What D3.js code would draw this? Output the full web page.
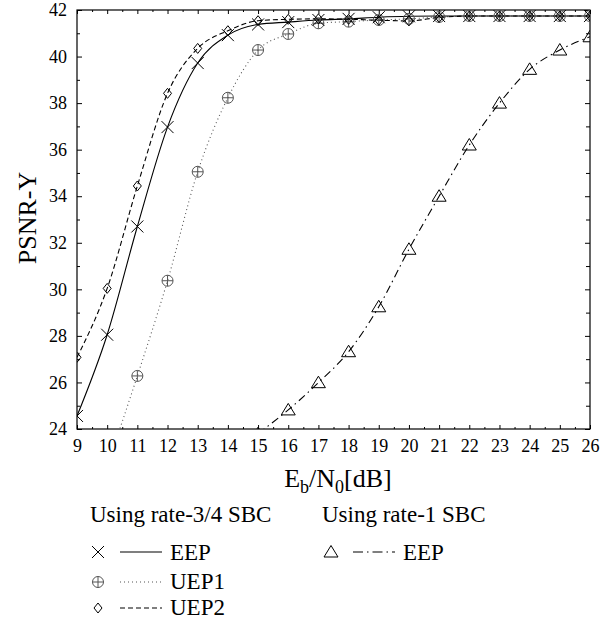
<!DOCTYPE html>
<html><head><meta charset="utf-8">
<script src="https://cdn.jsdelivr.net/npm/d3@7"></script>
<style>body{margin:0;background:#fff}svg{display:block}svg text{font-family:"Liberation Serif",serif !important;fill:#000}</style>
</head><body>
<script>
// ---- data ----
const snr = [9,10,11,12,13,14,15,16,17,18,19,20,21,22,23,24,25,26];
const eep34  = [24.56,28.05,32.7,36.97,39.72,40.92,41.38,41.48,41.57,41.62,41.69,41.73,41.74,41.74,41.74,41.74,41.74,41.74];
const uep1_x = [10,11,12,13,14,15,16,17,18,19,20,21,22,23,24,25,26];
const uep1   = [22.4,26.28,30.37,35.05,38.23,40.28,40.97,41.43,41.5,41.57,41.62,41.7,41.74,41.74,41.74,41.74,41.74];
const uep2   = [27.08,30.04,34.44,38.42,40.35,41.11,41.54,41.6,41.62,41.6,41.56,41.53,41.68,41.74,41.74,41.74,41.74,41.74];
const eep1_x = [15,16,17,18,19,20,21,22,23,24,25,26];
const eep1   = [23.8,24.82,25.99,27.32,29.25,31.72,34.0,36.2,38.0,39.45,40.28,40.85];
const xTicks = [9,10,11,12,13,14,15,16,17,18,19,20,21,22,23,24,25,26];
const yTicks = [24,26,28,30,32,34,36,38,40,42];

const W=615,H=624;
const svg=d3.select("body").append("svg").attr("width",W).attr("height",H)
  .attr("font-family","Liberation Serif");
const x=d3.scaleLinear().domain([9,26]).range([77,590]);
const y=d3.scaleLinear().domain([24,42]).range([429,10]);

svg.append("clipPath").attr("id","clip").append("rect")
  .attr("x",77).attr("y",10).attr("width",513).attr("height",419);

// axes
function styleAxis(g){g.attr("font-family","Liberation Serif");g.select(".domain").remove();g.selectAll("line").attr("stroke","#000");g.selectAll("text").style("font-size","18px");}
const xMinor=d3.range(9.5,26,1);
const yMinor=d3.range(25,42,2);
svg.append("g").attr("transform","translate(0,429)").call(d3.axisBottom(x).tickValues(xTicks).tickSize(-4).tickSizeOuter(0).tickPadding(10).tickFormat(d3.format("d"))).call(styleAxis);
svg.append("g").attr("transform","translate(0,429)").call(d3.axisBottom(x).tickValues(xMinor).tickSize(-2).tickSizeOuter(0).tickFormat("")).call(styleAxis);
svg.append("g").attr("transform","translate(0,10)").call(d3.axisTop(x).tickValues(xTicks).tickSize(-4).tickSizeOuter(0).tickFormat("")).call(styleAxis);
svg.append("g").attr("transform","translate(0,10)").call(d3.axisTop(x).tickValues(xMinor).tickSize(-2).tickSizeOuter(0).tickFormat("")).call(styleAxis);
svg.append("g").attr("transform","translate(77,0)").call(d3.axisLeft(y).tickValues(yTicks).tickSize(-5).tickSizeOuter(0).tickPadding(10).tickFormat(d3.format("d"))).call(styleAxis);
svg.append("g").attr("transform","translate(77,0)").call(d3.axisLeft(y).tickValues(yMinor).tickSize(-3).tickSizeOuter(0).tickFormat("")).call(styleAxis);
svg.append("g").attr("transform","translate(590,0)").call(d3.axisRight(y).tickValues(yTicks).tickSize(-5).tickSizeOuter(0).tickFormat("")).call(styleAxis);
svg.append("g").attr("transform","translate(590,0)").call(d3.axisRight(y).tickValues(yMinor).tickSize(-4).tickSizeOuter(0).tickFormat("")).call(styleAxis);

// frame
svg.append("rect").attr("x",77).attr("y",10).attr("width",513).attr("height",419)
  .attr("fill","none").attr("stroke","#000").attr("stroke-width",1.2);

// markers
function sym(g,type,cx,cy,color){
  const s=g.append("g").attr("transform",`translate(${cx},${cy})`).attr("fill","none").attr("stroke",color).attr("stroke-width",1);
  if(type==="x"){s.append("path").attr("d","M-6,-6L6,6M-6,6L6,-6");}
  else if(type==="oplus"){s.append("circle").attr("r",5.5);s.append("path").attr("d","M-5.5,0H5.5M0,-5.5V5.5");}
  else if(type==="diamond"){s.append("path").attr("d","M0,-5L4,0L0,5L-4,0Z");}
  else if(type==="tri"){s.append("path").attr("d","M0,-6.5L7,5L-7,5Z");}
}

const plot=svg.append("g").attr("clip-path","url(#clip)");
const line=d3.line().x(d=>x(d[0])).y(d=>y(d[1])).curve(d3.curveMonotoneX);
const series=[
  {xs:uep1_x,ys:uep1,dash:"1,3",color:"#555",sym:"oplus"},
  {xs:snr,ys:uep2,dash:"5,3",color:"#000",sym:"diamond"},
  {xs:snr,ys:eep34,dash:null,color:"#000",sym:"x"},
  {xs:eep1_x,ys:eep1,dash:"8,4,1.5,4",color:"#000",sym:"tri"}
];
series.forEach(s=>{
  const pts=s.xs.map((v,i)=>[v,s.ys[i]]);
  plot.append("path").datum(pts).attr("d",line).attr("fill","none")
    .attr("stroke",s.color).attr("stroke-width",1.1).attr("stroke-dasharray",s.dash);
});
series.forEach(s=>{
  s.xs.forEach((v,i)=>sym(plot,s.sym,x(v),y(s.ys[i]),s.color));
});

// axis labels
svg.append("text").attr("transform","translate(36,218) rotate(-90)").attr("text-anchor","middle")
  .style("font-size","26px").text("PSNR-Y");
const xl=svg.append("text").attr("x",338).attr("y",487).attr("text-anchor","middle").style("font-size","26px");
xl.append("tspan").text("E");
xl.append("tspan").attr("dy",6).style("font-size","18px").text("b");
xl.append("tspan").attr("dy",-6).text("/N");
xl.append("tspan").attr("dy",6).style("font-size","18px").text("0");
xl.append("tspan").attr("dy",-6).text("[dB]");

// legend
const lg=svg.append("g");
lg.append("text").attr("x",90).attr("y",522).style("font-size","23px").text("Using rate-3/4 SBC");
lg.append("text").attr("x",322).attr("y",522).style("font-size","23px").text("Using rate-1 SBC");
const legItems=[
  {sym:"x",dash:null,color:"#000",label:"EEP",x0:98,cy:552,base:560},
  {sym:"oplus",dash:"1,3",color:"#555",label:"UEP1",x0:98,cy:582,base:589},
  {sym:"diamond",dash:"5,3",color:"#000",label:"UEP2",x0:98,cy:608,base:615},
  {sym:"tri",dash:"10,4,1.5,4",color:"#000",label:"EEP",x0:331,cy:552,base:560}
];
legItems.forEach(it=>{
  sym(lg,it.sym,it.x0,it.cy,it.color);
  lg.append("line").attr("x1",it.x0+22).attr("x2",it.x0+64).attr("y1",it.cy).attr("y2",it.cy)
    .attr("stroke",it.color).attr("stroke-width",1.1).attr("stroke-dasharray",it.dash);
  lg.append("text").attr("x",it.x0+72).attr("y",it.base).style("font-size","23px").text(it.label);
});
</script>
</body></html>
